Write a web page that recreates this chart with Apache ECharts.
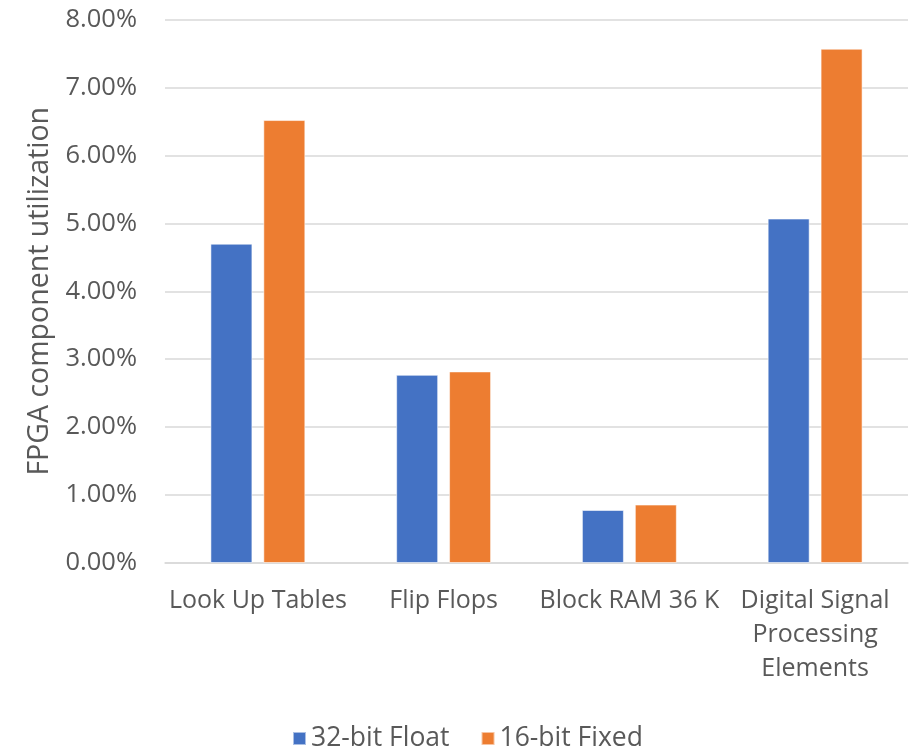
<!DOCTYPE html>
<html>
<head>
<meta charset="utf-8">
<title>FPGA component utilization</title>
<script src="https://cdn.jsdelivr.net/npm/echarts@6/dist/echarts.min.js"></script>
<style>
  html, body { margin: 0; padding: 0; background: #ffffff; }
  #chart { width: 917px; height: 749px; }
</style>
</head>
<body>
<div id="chart"></div>
<script>
// FPGA resource categories and utilization (percent)
const categories = ['Look Up Tables', 'Flip Flops', 'Block RAM 36 K', 'Digital Signal\nProcessing\nElements'];
const float32 = [4.70, 2.77, 0.78, 5.07];
const fixed16 = [6.52, 2.82, 0.86, 7.57];
const seriesNames = ['32-bit Float', '16-bit Fixed'];

const textColor = '#595959';
const fontFamily = '"Open Sans", sans-serif';

const chart = echarts.init(document.getElementById('chart'));
chart.setOption({
  animation: false,
  textStyle: { fontFamily: fontFamily, color: textColor },
  grid: { left: 165, right: 9, top: 19.5, bottom: 186, containLabel: false },
  legend: {
    bottom: -8,
    left: 287,
    itemWidth: 13,
    itemHeight: 13,
    itemGap: 31,
    icon: 'rect',
    textStyle: { fontSize: 26.5, color: textColor, fontFamily: fontFamily },
    data: seriesNames
  },
  xAxis: {
    type: 'category',
    data: categories,
    axisLine: { show: true, lineStyle: { color: '#d9d9d9', width: 1.5 } },
    axisTick: { show: false },
    axisLabel: {
      margin: 21,
      fontSize: 25,
      lineHeight: 34,
      color: textColor,
      fontFamily: fontFamily,
      interval: 0
    }
  },
  yAxis: {
    type: 'value',
    min: 0,
    max: 8,
    interval: 1,
    name: 'FPGA component utilization',
    nameLocation: 'middle',
    nameGap: 110,
    nameTextStyle: { fontSize: 28.5, color: textColor, fontFamily: fontFamily },
    axisLine: { show: false },
    axisTick: { show: false },
    splitLine: { lineStyle: { color: '#d9d9d9', width: 1.5 } },
    axisLabel: {
      margin: 28,
      fontSize: 25.5,
      color: textColor,
      fontFamily: fontFamily,
      formatter: v => v.toFixed(2) + '%'
    }
  },
  series: [
    {
      name: seriesNames[0],
      type: 'bar',
      data: float32,
      barWidth: 42,
      barGap: '26%',
      itemStyle: { color: '#4472C4', borderColor: 'rgba(255,255,255,0.55)', borderWidth: 1 }
    },
    {
      name: seriesNames[1],
      type: 'bar',
      data: fixed16,
      barWidth: 42,
      barGap: '26%',
      itemStyle: { color: '#ED7D31', borderColor: 'rgba(255,255,255,0.55)', borderWidth: 1 }
    }
  ]
});
</script>
</body>
</html>
